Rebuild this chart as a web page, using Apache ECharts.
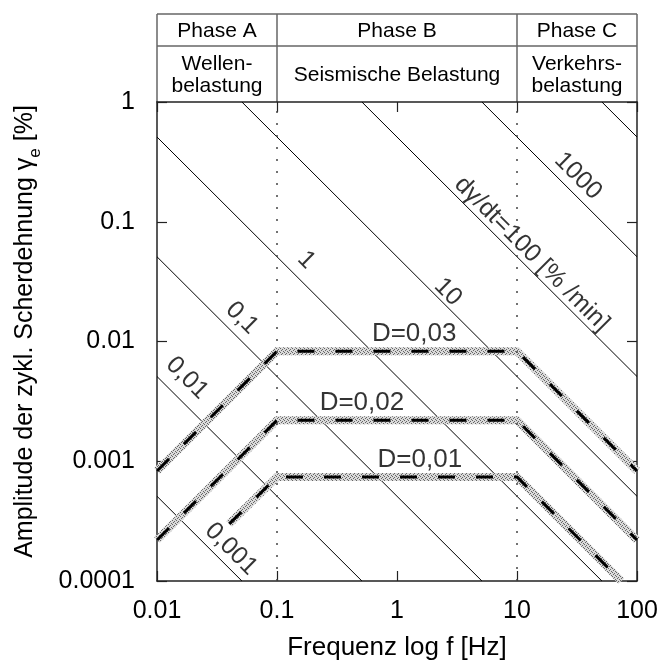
<!DOCTYPE html>
<html>
<head>
<meta charset="utf-8">
<script src="https://cdn.jsdelivr.net/npm/echarts@6/dist/echarts.min.js"></script>
<style>
html,body{margin:0;padding:0;background:#fff;overflow:hidden;}
#chart{width:661px;height:662px;}
</style>
</head>
<body>
<div id="chart"></div>
<script>
// ---- data ----
const freqTickLabels = ['0.01', '0.1', '1', '10', '100'];
const strainTickLabels = ['0.0001', '0.001', '0.01', '0.1', '1'];

// constant strain-rate lines: [f1, gamma1], [f2, gamma2] (entry / exit of plot)
const rateNames = ['0,001', '0,01', '0,1', '1', '10', '100', '1000', '10000'];
const rateLines = [
  [[0.01, 0.00051], [0.051, 0.0001]],
  [[0.01, 0.0051], [0.51, 0.0001]],
  [[0.01, 0.051], [5.1, 0.0001]],
  [[0.01, 0.51], [51, 0.0001]],
  [[0.051, 1], [100, 0.00051]],
  [[0.51, 1], [100, 0.0051]],
  [[5.1, 1], [100, 0.051]],
  [[51, 1], [100, 0.51]]
];

// damping bands
const bandD003 = [[0.01, 0.00083], [0.1, 0.0083], [10, 0.0083], [100, 0.00083]];
const bandD002 = [[0.01, 0.00022], [0.1, 0.0022], [10, 0.0022], [100, 0.00022]];
const bandD001 = [[0.04, 0.0003], [0.1, 0.00074], [10, 0.00074], [74, 0.0001]];

// phase boundaries (frequency)
const phaseBounds = [0.01, 0.1, 10, 100];
const phaseTitles = ['Phase A', 'Phase B', 'Phase C'];
const phaseLoads = ['Wellen-\nbelastung', 'Seismische Belastung', 'Verkehrs-\nbelastung'];

// labels on the chart: [f, gamma, text]
const rateLabels = [
  [32.2, 0.241, '1000'],
  [13.3, 0.0538, 'dγ/dt=100 [% /min]'],
  [2.66, 0.0259, '10'],
  [0.175, 0.048, '1'],
  [0.051, 0.0157, '0,1'],
  [0.0178, 0.00495, '0,01'],
  [0.0414, 0.000185, '0,001']
];
const dampLabels = [
  [1.39, 0.01155, 'D=0,03'],
  [0.51, 0.00306, 'D=0,02'],
  [1.55, 0.00102, 'D=0,01']
];

const FONT = '"Liberation Sans", Arial, Helvetica, sans-serif';

// stipple pattern for the grey bands
const pc = document.createElement('canvas');
pc.width = 4; pc.height = 4;
const pctx = pc.getContext('2d');
pctx.fillStyle = '#dadada';
pctx.fillRect(0, 0, 4, 4);
pctx.fillStyle = '#666666';
[[0,0],[2,1],[1,2],[3,3]].forEach(p => pctx.fillRect(p[0], p[1], 1, 1));
const bandColor = { image: pc, repeat: 'repeat' };

function logLabel(arr, minExp) {
  return function (v) {
    const i = Math.round(Math.log10(v)) - minExp;
    return arr[i] !== undefined ? arr[i] : '';
  };
}

const chart = echarts.init(document.getElementById('chart'), null, { renderer: 'canvas' });

const axisLineStyle = { color: '#222', width: 1.5 };
const series = [];

rateLines.forEach((pts, i) => {
  series.push({
    type: 'line', name: 'rate ' + rateNames[i], data: pts, symbol: 'none', silent: true,
    lineStyle: { color: '#000', width: 1 }, z: 2, animation: false
  });
});

[bandD003, bandD002, bandD001].forEach((b) => {
  series.push({
    type: 'line', data: b, symbol: 'none', silent: true, z: 3, animation: false,
    lineStyle: { color: bandColor, width: 8, cap: 'butt', join: 'miter' }
  });
  series.push({
    type: 'line', data: b, symbol: 'none', silent: true, z: 4, animation: false,
    lineStyle: { color: '#000', width: 3, type: [17, 21], cap: 'butt' }
  });
});

// dotted phase boundaries
series.push({
  type: 'line', data: [], silent: true, animation: false,
  markLine: {
    symbol: 'none', silent: true, animation: false,
    label: { show: false },
    lineStyle: { color: '#444', width: 1.5, type: [2, 10] },
    data: [{ xAxis: phaseBounds[1] }, { xAxis: phaseBounds[2] }]
  }
});

// labels
series.push({
  type: 'scatter', symbolSize: 0, silent: true, animation: false, z: 6,
  data: rateLabels.map(l => ({ value: [l[0], l[1]], name: l[2] })),
  label: {
    show: true, position: 'inside', rotate: -45, formatter: p => p.name,
    fontFamily: FONT, fontSize: 25, color: '#000'
  }
});
series.push({
  type: 'scatter', symbolSize: 0, silent: true, animation: false, z: 6,
  data: dampLabels.map(l => ({ value: [l[0], l[1]], name: l[2] })),
  label: {
    show: true, position: 'inside', formatter: p => p.name,
    fontFamily: FONT, fontSize: 26, color: '#000'
  }
});

const tickStyle = { inside: true, length: 10, lineStyle: { color: '#222', width: 1.2 } };

const option = {
  animation: false,
  backgroundColor: '#fff',
  grid: { left: 157, right: 24, top: 102, bottom: 81, containLabel: false, outerBoundsMode: 'none' },
  xAxis: [{
    type: 'log', logBase: 10, min: 0.01, max: 100, position: 'bottom',
    name: 'Frequenz log f [Hz]', nameLocation: 'middle', nameGap: 54,
    nameTextStyle: { fontFamily: FONT, fontSize: 26, color: '#000' },
    axisLine: { lineStyle: axisLineStyle },
    axisTick: tickStyle,
    minorTick: { show: false },
    splitLine: { show: false },
    axisLabel: { formatter: logLabel(freqTickLabels, -2), fontFamily: FONT, fontSize: 25, color: '#000', margin: 18 }
  }, {
    type: 'log', logBase: 10, min: 0.01, max: 100, position: 'top',
    axisLine: { lineStyle: axisLineStyle },
    axisTick: tickStyle,
    splitLine: { show: false },
    axisLabel: { show: false }
  }],
  yAxis: [{
    type: 'log', logBase: 10, min: 0.0001, max: 1, position: 'left',
    name: 'Amplitude der zykl. Scherdehnung γ{s|e} [%]', nameLocation: 'middle', nameGap: 119,
    nameRotate: 90,
    nameTextStyle: { fontFamily: FONT, fontSize: 25, color: '#000', padding: [0, 0, 0, 20],
      rich: { s: { fontFamily: FONT, fontSize: 17, color: '#000', verticalAlign: 'bottom', padding: [0, 0, -6, 0] } } },
    axisLine: { lineStyle: axisLineStyle },
    axisTick: tickStyle,
    splitLine: { show: false },
    axisLabel: { formatter: logLabel(strainTickLabels, -4), fontFamily: FONT, fontSize: 25, color: '#000', margin: 22 }
  }, {
    type: 'log', logBase: 10, min: 0.0001, max: 1, position: 'right',
    axisLine: { lineStyle: axisLineStyle },
    axisTick: tickStyle,
    splitLine: { show: false },
    axisLabel: { show: false }
  }],
  series: series
};

chart.setOption(option);

// header table above the plot, placed with the x scale
const xs = phaseBounds.map(f => chart.convertToPixel({ xAxisIndex: 0 }, f));
const yTop = chart.convertToPixel({ yAxisIndex: 0 }, 1);
const hTop = yTop - 88, hMid = yTop - 56;
const hdr = [];
const hdrStroke = { stroke: '#666', lineWidth: 1.5 };
hdr.push({ type: 'line', shape: { x1: xs[0], y1: hTop, x2: xs[3], y2: hTop }, style: hdrStroke, silent: true });
hdr.push({ type: 'line', shape: { x1: xs[0], y1: hMid, x2: xs[3], y2: hMid }, style: hdrStroke, silent: true });
xs.forEach(x => hdr.push({ type: 'line', shape: { x1: x, y1: hTop, x2: x, y2: yTop }, style: hdrStroke, silent: true }));
for (let i = 0; i < 3; i++) {
  const cx = (xs[i] + xs[i + 1]) / 2;
  hdr.push({ type: 'text', x: cx, y: (hTop + hMid) / 2 + 1, silent: true,
    style: { text: phaseTitles[i], font: '21px ' + FONT, fill: '#000', align: 'center', verticalAlign: 'middle' } });
  hdr.push({ type: 'text', x: cx, y: (hMid + yTop) / 2 + 1, silent: true,
    style: { text: phaseLoads[i], font: '21px ' + FONT, fill: '#000', align: 'center', verticalAlign: 'middle', lineHeight: 22 } });
}
chart.setOption({ graphic: hdr });
</script>
</body>
</html>
